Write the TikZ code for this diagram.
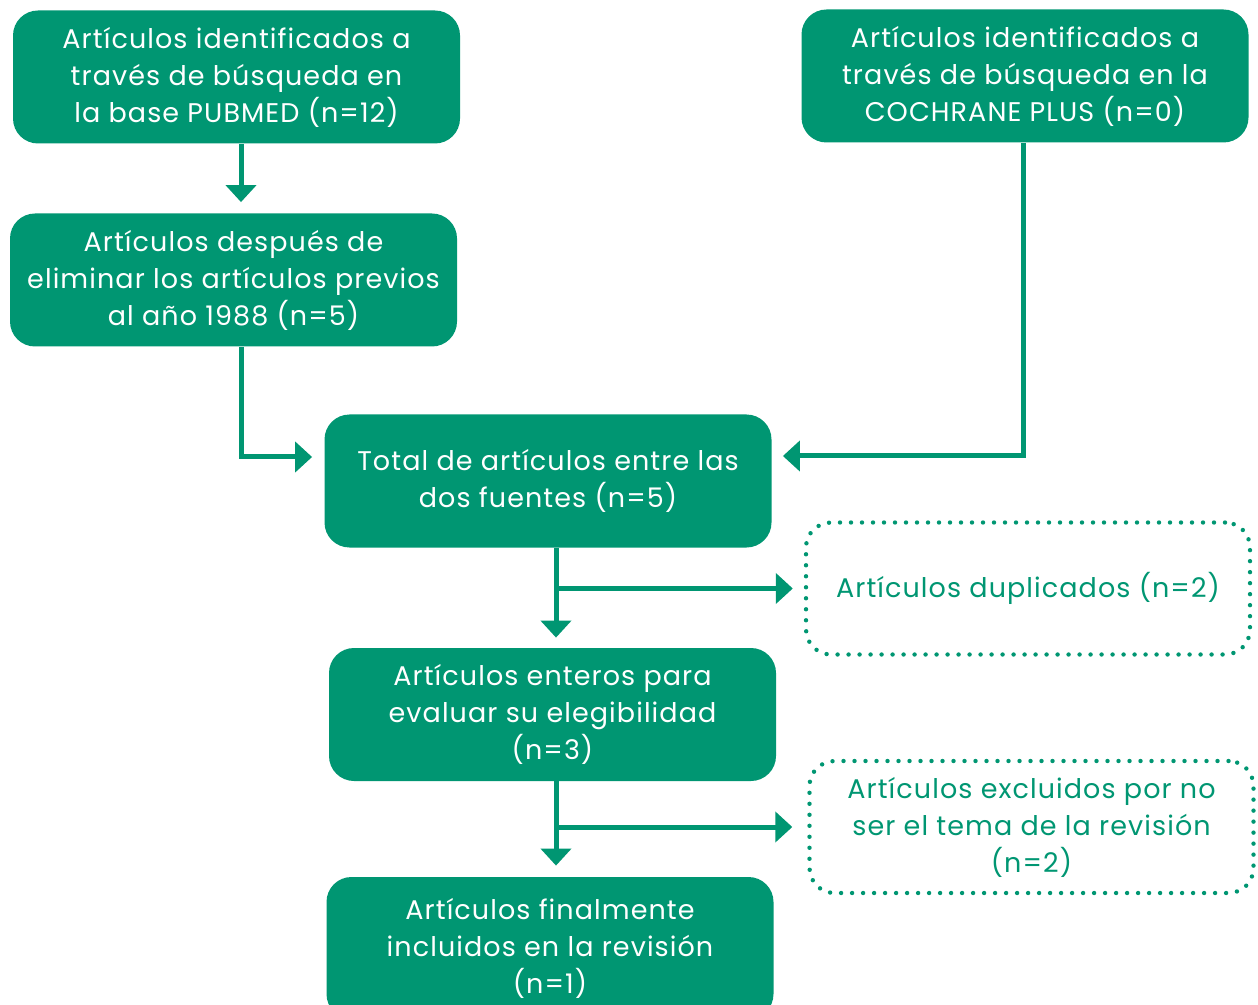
\documentclass[tikz,border=0pt]{standalone}
\usepackage{fontspec}
\setmainfont[LetterSpace=4]{Poppins}
\usetikzlibrary{arrows.meta}
\definecolor{verde}{RGB}{0,150,114}
\tikzset{
  caja/.style={fill=verde, text=white, rounded corners=12.5pt,
    minimum width=223.5pt, minimum height=66.5pt, align=center, inner sep=2pt,
    font=\fontsize{13.5pt}{18.5pt}\selectfont},
  punteada/.style={draw=verde, text=verde, dash pattern=on 0pt off 5.5pt,
    line cap=round, line width=2.2pt, rounded corners=12.5pt,
    minimum width=222pt, minimum height=66pt, align=center, inner sep=2pt,
    font=\fontsize{13.5pt}{18.5pt}\selectfont},
  flecha/.style={draw=verde, line width=2.5pt, -{Triangle[width=15pt,length=8.5pt]}}
}
\begin{document}
\begin{tikzpicture}[x=0.5pt,y=-0.5pt]
      \useasboundingbox (0,0) rectangle (1258,1005);
      \draw
        (236.5,77) node[caja] (pubmed){Artículos identificados a\\través de búsqueda en\\la base PUBMED (n=12)}
        (1025,76) node[caja] (cochrane){Artículos identificados a\\través de búsqueda en la\\COCHRANE PLUS (n=0)}
        (233.5,280) node[caja] (despues){Artículos después de\\eliminar los artículos previos\\al año 1988 (n=5)}
        (548,481) node[caja] (total){Total de artículos entre las\\dos fuentes (n=5)}
        (1028,588.5) node[punteada] (duplicados){Artículos duplicados (n=2)}
        (552.5,714.5) node[caja] (enteros){Artículos enteros para\\evaluar su elegibilidad\\(n=3)}
        (1031.5,827) node[punteada] (excluidos){Artículos excluidos por no\\ser el tema de la revisión\\(n=2)}
        (550,948) node[caja, minimum height=71pt] (final){Artículos finalmente\\incluidos en la revisión\\(n=1)};
      \begin{scope}[flecha]
        \draw ([xshift=2.25pt]pubmed.south) -- ([xshift=2.25pt]pubmed.south |- despues.north) [shorten >=5.5pt];
        \draw ([xshift=3.75pt]despues.south) |- ([xshift=-6pt,yshift=12pt]total.west);
        \draw ([xshift=-1pt]cochrane.south) |- ([xshift=5.5pt,yshift=12.5pt]total.east);
        \draw ([xshift=4pt]total.south) -- ([xshift=4pt]total.south |- enteros.north) [shorten >=5pt];
        \draw ([xshift=4pt]total.south) |- ([xshift=-5.5pt]duplicados.west);
        \draw ([xshift=1.75pt]enteros.south) -- ([xshift=1.75pt]enteros.south |- final.north) [shorten >=5.5pt];
        \draw ([xshift=1.75pt]enteros.south) |- ([xshift=-7.5pt]excluidos.west);
      \end{scope}
    \end{tikzpicture}
\end{document}
